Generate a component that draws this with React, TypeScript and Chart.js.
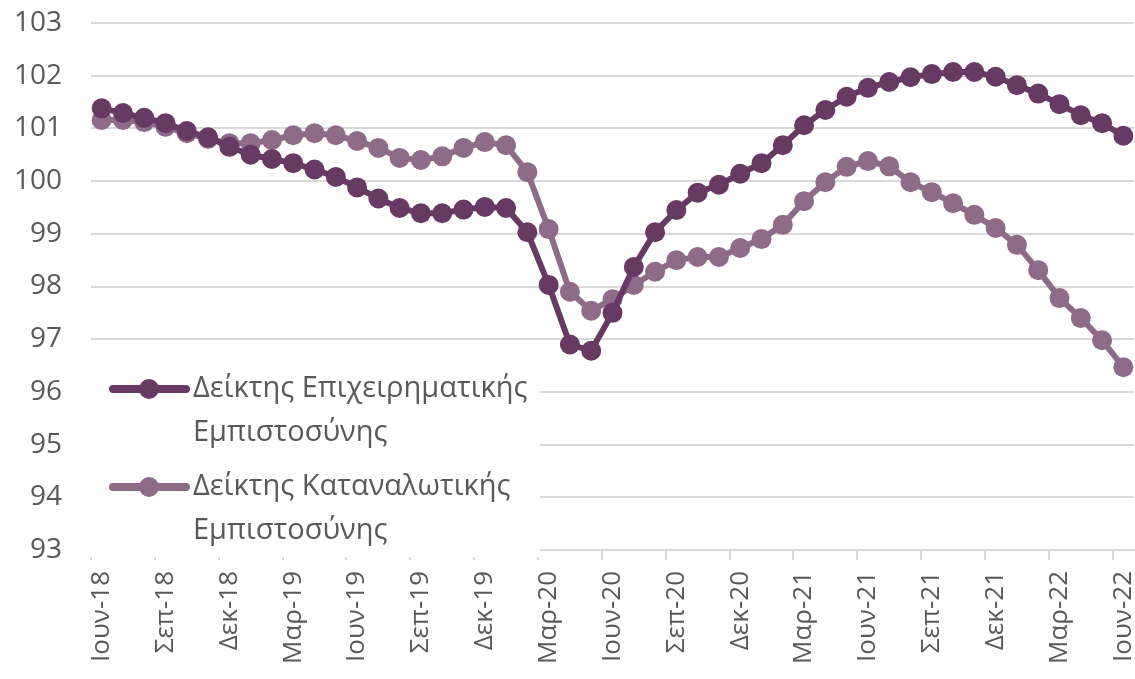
import React, { useEffect, useRef } from "react";
import { Chart, registerables } from "chart.js";

Chart.register(...registerables);

const months = ["Ιουν", "Ιουλ", "Αυγ", "Σεπ", "Οκτ", "Νοε", "Δεκ", "Ιαν", "Φεβ", "Μαρ", "Απρ", "Μαϊ"];
const startYear = 18;
const monthCount = 49;
const categories: string[] = Array.from({ length: monthCount }, (_, i) => {
  const m = months[i % 12];
  const yr = startYear + Math.floor((i + 5) / 12);
  return `${m}-${yr}`;
});

const businessConfidence = [
  101.38, 101.29, 101.2, 101.1, 100.95, 100.83, 100.65, 100.5, 100.42, 100.34, 100.22, 100.08,
  99.88, 99.67, 99.49, 99.39, 99.39, 99.46, 99.51, 99.49, 99.03, 98.03, 96.9, 96.78,
  97.5, 98.37, 99.03, 99.45, 99.78, 99.93, 100.14, 100.34, 100.68, 101.06, 101.35, 101.6,
  101.77, 101.88, 101.97, 102.03, 102.07, 102.07, 101.98, 101.82, 101.66, 101.46, 101.25, 101.1,
  100.86,
];

const consumerConfidence = [
  101.16, 101.16, 101.12, 101.03, 100.91, 100.8, 100.72, 100.72, 100.78, 100.87, 100.91, 100.87,
  100.76, 100.63, 100.44, 100.4, 100.47, 100.63, 100.74, 100.68, 100.17, 99.09, 97.9, 97.54,
  97.76, 98.03, 98.28, 98.5, 98.56, 98.56, 98.73, 98.9, 99.17, 99.62, 99.98, 100.27,
  100.38, 100.28, 99.98, 99.79, 99.58, 99.36, 99.11, 98.79, 98.31, 97.78, 97.4, 96.98,
  96.47,
];

const seriesNames = [
  ["Δείκτης Επιχειρηματικής", "Εμπιστοσύνης"],
  ["Δείκτης Καταναλωτικής", "Εμπιστοσύνης"],
];

const yMin = 93;
const yMax = 103;

const DARK = "#673A63";
const LIGHT = "#8D6B89";
const TEXT = "#595959";
const GRID = "#d9d9d9";
const FONT = "'Open Sans', 'Noto Sans', sans-serif";

const legendPlugin = {
  id: "insideLegend",
  beforeDatasetsDraw(chart: any) {
    const ctx = chart.ctx as CanvasRenderingContext2D;
    const area = chart.chartArea;
    ctx.save();
    ctx.fillStyle = "#ffffff";
    ctx.fillRect(area.left - 1, 345, 540 - area.left + 1, 212);
    const colors = [DARK, LIGHT];
    const itemY = [389, 487];
    seriesNames.forEach((lines, k) => {
      const y = itemY[k];
      ctx.strokeStyle = colors[k];
      ctx.lineWidth = 8;
      ctx.lineCap = "round";
      ctx.beginPath();
      ctx.moveTo(113, y);
      ctx.lineTo(186, y);
      ctx.stroke();
      ctx.fillStyle = colors[k];
      ctx.beginPath();
      ctx.arc(149, y, 10, 0, Math.PI * 2);
      ctx.fill();
      ctx.fillStyle = TEXT;
      ctx.font = `29px ${FONT}`;
      ctx.textBaseline = "middle";
      ctx.textAlign = "left";
      lines.forEach((t, j) => ctx.fillText(t, 193, y + j * 44));
    });
    ctx.restore();
  },
};

export default function App() {
  const ref = useRef<HTMLCanvasElement | null>(null);
  useEffect(() => {
    if (!ref.current) return;
    const chart = new Chart(ref.current, {
      type: "line",
      data: {
        labels: categories,
        datasets: [
          {
            label: seriesNames[0].join(" "),
            data: businessConfidence,
            borderColor: DARK,
            backgroundColor: DARK,
            borderWidth: 6,
            pointRadius: 10,
            pointBorderWidth: 0,
            pointBackgroundColor: DARK,
            tension: 0,
            clip: false as any,
          },
          {
            label: seriesNames[1].join(" "),
            data: consumerConfidence,
            borderColor: LIGHT,
            backgroundColor: LIGHT,
            borderWidth: 6,
            pointRadius: 10,
            pointBorderWidth: 0,
            pointBackgroundColor: LIGHT,
            tension: 0,
            clip: false as any,
          },
        ],
      },
      options: {
        animation: false,
        responsive: true,
        maintainAspectRatio: false,
        layout: { autoPadding: false, padding: { top: 23, right: 1, left: 0, bottom: 0 } },
        plugins: { legend: { display: false }, tooltip: { enabled: false } },
        scales: {
          x: {
            offset: true,
            grid: {
              offset: true,
              drawOnChartArea: false,
              tickLength: 10,
              lineWidth: 2,
              color: (c: any) => (c.index % 3 === 0 ? GRID : "rgba(0,0,0,0)"),
            },
            border: { display: true, color: GRID, width: 2 },
            ticks: {
              autoSkip: false,
              maxRotation: 90,
              minRotation: 90,
              padding: 11,
              color: TEXT,
              font: { family: FONT, size: 26 },
              callback: (_v: any, i: number) => (i % 3 === 0 ? categories[i] : ""),
            },
            afterFit: (s: any) => {
              s.height = 129;
              s.paddingLeft = 0;
              s.paddingRight = 0;
            },
          },
          y: {
            min: yMin,
            max: yMax,
            grid: { color: GRID, lineWidth: 2, drawTicks: false },
            border: { display: false },
            ticks: {
              stepSize: 1,
              padding: 29,
              color: TEXT,
              font: { family: FONT, size: 28 },
            },
            afterFit: (s: any) => {
              s.width = 91;
              s.paddingTop = 0;
              s.paddingBottom = 0;
            },
          },
        },
      },
      plugins: [legendPlugin],
    });
    return () => chart.destroy();
  }, []);
  return (
    <div style={{ position: "absolute", left: 0, top: 0, width: 1135, height: 679, background: "#fff" }}>
      <canvas ref={ref} />
    </div>
  );
}
